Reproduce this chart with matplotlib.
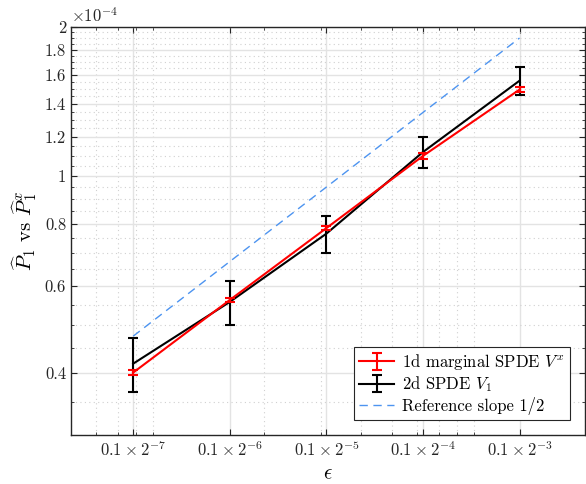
import numpy as np
import matplotlib
matplotlib.use("Agg")
import matplotlib.pyplot as plt
from matplotlib.ticker import FixedLocator, FuncFormatter, NullFormatter, LogLocator

plt.rcParams["font.family"] = "serif"
plt.rcParams["font.serif"] = ["cmr10", "DejaVu Serif"]
plt.rcParams["mathtext.fontset"] = "cm"
plt.rcParams["axes.formatter.use_mathtext"] = True

# step sizes 0.1 * 2^k
k_exp = [-7, -6, -5, -4, -3]
eps = [0.1 * 2.0 ** k for k in k_exp]

# 1d marginal SPDE V^x (units of 1e-4)
p_1d = [0.401, 0.562, 0.785, 1.098, 1.495]
err_1d = [0.005, 0.006, 0.008, 0.013, 0.017]

# 2d SPDE V_1 (units of 1e-4)
p_2d = [0.418, 0.557, 0.765, 1.118, 1.558]
err_2d = [0.052, 0.056, 0.065, 0.081, 0.102]

# reference line with slope 1/2
p_ref = [0.475, 0.672, 0.95, 1.344, 1.90]

scale = 1e-4

fig = plt.figure(figsize=(5.86, 4.84), dpi=100)
ax = fig.add_axes([71 / 586, 1 - 435 / 484, 514 / 586, 408 / 484])

h1 = ax.errorbar(eps, np.array(p_1d) * scale, yerr=np.array(err_1d) * scale,
                 color="red", lw=1.5, capsize=3.5, elinewidth=1.5, capthick=1.5,
                 label=r"1d marginal SPDE $V^x$", zorder=4)
h2 = ax.errorbar(eps, np.array(p_2d) * scale, yerr=np.array(err_2d) * scale,
                 color="black", lw=1.5, capsize=3.5, elinewidth=1.5, capthick=1.5,
                 label=r"2d SPDE $V_1$", zorder=3)
h3, = ax.plot(eps, np.array(p_ref) * scale, color="#4D94F0", lw=1.0,
              dashes=(6, 4), label="Reference slope 1/2", zorder=2)

ax.set_xscale("log")
ax.set_yscale("log")
ax.set_xlim(5e-4, 2e-2)
ax.set_ylim(0.3e-4, 2e-4)

# x ticks
ax.xaxis.set_major_locator(FixedLocator(eps))
ax.set_xticklabels([r"$0.1\times 2^{%d}$" % k for k in k_exp])
ax.xaxis.set_minor_locator(LogLocator(base=10, subs=np.arange(2, 10)))
ax.xaxis.set_minor_formatter(NullFormatter())

# y ticks
y_major = [0.4, 0.6, 0.8, 1.0, 1.2, 1.4, 1.6, 1.8, 2.0]
y_minor = np.arange(0.30, 2.001, 0.05)
ax.yaxis.set_major_locator(FixedLocator(np.array(y_major) * scale))
ax.yaxis.set_major_formatter(FuncFormatter(lambda v, p: ("%.1f" % (v / scale)).rstrip("0").rstrip(".")))
ax.yaxis.set_minor_locator(FixedLocator(y_minor * scale))
ax.yaxis.set_minor_formatter(NullFormatter())
ax.text(0.0, 1.005, r"$\times 10^{-4}$", transform=ax.transAxes,
        fontsize=12, ha="left", va="bottom", color="#262626")

ax.grid(True, which="major", color="#e3e3e3", lw=1.0, zorder=0)
ax.grid(True, which="minor", color="#d0d0d0", lw=0.8, ls=(0, (1, 3)), zorder=0)
ax.set_axisbelow(True)

ax.tick_params(which="both", direction="in", top=True, right=True,
               colors="#262626", labelsize=12)
ax.tick_params(which="major", length=4)
ax.tick_params(which="minor", length=2)
for s in ax.spines.values():
    s.set_color("#262626")
    s.set_linewidth(1.0)

ax.set_xlabel(r"$\epsilon$", fontsize=15)
ax.set_ylabel(r"$\widehat{P}_1$ vs $\widehat{P}_1^x$", fontsize=15)

leg = ax.legend([h1, h2, h3], [h.get_label() for h in (h1, h2, h3)],
                loc="lower right", fontsize=12, fancybox=False, framealpha=1,
                edgecolor="#262626", borderaxespad=0.9, handlelength=2.1,
                labelspacing=0.15, borderpad=0.3, handletextpad=0.5)
leg.get_frame().set_linewidth(0.8)

fig.savefig("out.png", dpi=100)
